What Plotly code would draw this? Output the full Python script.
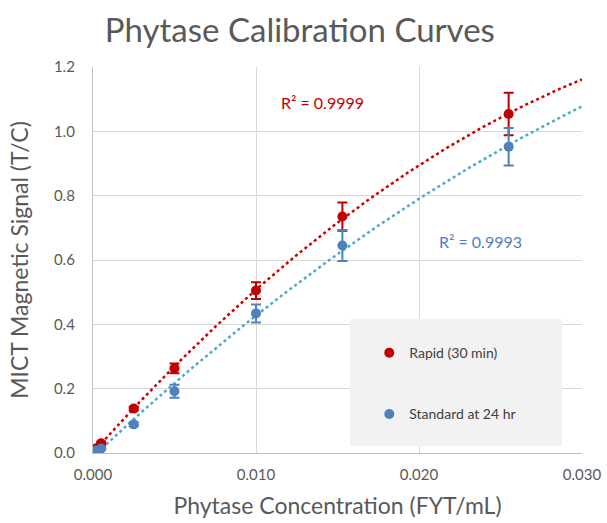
import numpy as np
import plotly.graph_objects as go

# Data
conc = [0.0, 0.0002, 0.0005, 0.0025, 0.005, 0.010, 0.0153, 0.0255]
rapid = [0.005, 0.015, 0.030, 0.138, 0.263, 0.505, 0.735, 1.054]
rapid_err = [0.003, 0.004, 0.005, 0.006, 0.015, 0.026, 0.044, 0.066]
standard = [0.003, 0.008, 0.014, 0.089, 0.192, 0.434, 0.645, 0.952]
standard_err = [0.003, 0.003, 0.004, 0.006, 0.020, 0.028, 0.048, 0.058]

series_names = ["Rapid (30 min)", "Standard at 24 hr"]
r2_labels = ["R² = 0.9999", "R² = 0.9993"]
x_ticks = [0.0, 0.010, 0.020, 0.030]
y_ticks = [0.0, 0.2, 0.4, 0.6, 0.8, 1.0, 1.2]

RED = "#C00000"
BLUE = "#4F81BD"
RED_TREND = "#D00000"
BLUE_TREND = "#4BACC6"
GRAY = "#595959"
FONT = "Lato"

# polynomial (order 2) trendlines fitted from the data
xfit = np.linspace(0, x_ticks[-1], 200)
p_red = np.polyfit(conc, rapid, 2)
p_blue = np.polyfit(conc, standard, 2)

fig = go.Figure()
fig.add_trace(go.Scatter(x=xfit, y=np.polyval(p_red, xfit), mode="lines",
                         line=dict(color=RED_TREND, width=2.5, dash="dot"),
                         showlegend=False, hoverinfo="skip"))
fig.add_trace(go.Scatter(x=xfit, y=np.polyval(p_blue, xfit), mode="lines",
                         line=dict(color=BLUE_TREND, width=2.5, dash="dot"),
                         showlegend=False, hoverinfo="skip"))
fig.add_trace(go.Scatter(x=conc, y=rapid, mode="markers", name=series_names[0],
                         legendgroup="a",
                         marker=dict(color=RED, size=10),
                         error_y=dict(type="data", array=rapid_err, color=RED,
                                      thickness=2, width=5)))
fig.add_trace(go.Scatter(x=conc, y=standard, mode="markers", name=series_names[1],
                         legendgroup="b",
                         marker=dict(color=BLUE, size=10),
                         error_y=dict(type="data", array=standard_err, color=BLUE,
                                      thickness=2, width=5)))

# legend background box
fig.add_shape(type="rect", xref="paper", yref="paper",
              x0=0.5256, x1=0.959, y0=0.018, y1=0.347,
              fillcolor="#F2F2F2", line=dict(width=0), layer="above")

fig.add_annotation(x=0.0141, y=1.09, xref="x", yref="y", text=r2_labels[0],
                   showarrow=False, font=dict(family=FONT, size=16, color=RED))
fig.add_annotation(x=0.0238, y=0.658, xref="x", yref="y", text=r2_labels[1],
                   showarrow=False, font=dict(family=FONT, size=16, color=BLUE))

axis_common = dict(showgrid=True, gridcolor="#D9D9D9", gridwidth=1.3,
                   zeroline=False, showline=True, linecolor="#BFBFBF",
                   linewidth=1.3, mirror=False, ticks="", automargin=False,
                   tickfont=dict(family=FONT, size=15, color=GRAY))

fig.update_xaxes(range=[0, 0.030], tickvals=x_ticks, tickformat=".3f",
                 title=dict(text="Phytase Concentration (FYT/mL)",
                            font=dict(family=FONT, size=23, color=GRAY),
                            standoff=15),
                 ticklabelstandoff=8, **axis_common)
fig.update_yaxes(range=[0, 1.2], tickvals=y_ticks, tickformat=".1f",
                 title=dict(text="MICT Magnetic Signal (T/C)",
                            font=dict(family=FONT, size=23, color=GRAY),
                            standoff=18),
                 ticklabelstandoff=14, **axis_common)

fig.update_layout(
    width=607, height=523,
    margin=dict(l=93, r=25, t=67, b=70),
    paper_bgcolor="white", plot_bgcolor="white",
    title=dict(text="Phytase Calibration Curves", x=0.494, xanchor="center",
               y=1 - 19 / 523, yanchor="top", yref="container",
               font=dict(family=FONT, size=33, color=GRAY)),
    legend=dict(x=0.565, y=0.30, xanchor="left", yanchor="top",
                bgcolor="rgba(0,0,0,0)", tracegroupgap=40,
                font=dict(family=FONT, size=14, color="#404040")),
    showlegend=True,
)

fig.write_html("out.html")
